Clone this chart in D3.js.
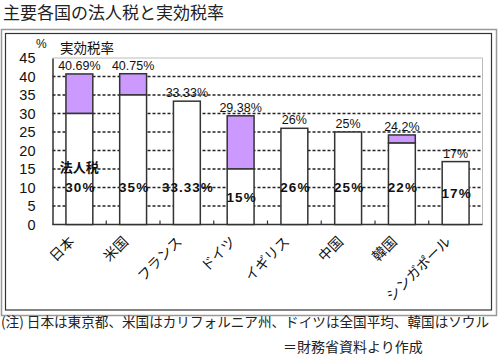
<!DOCTYPE html>
<html><head><meta charset="utf-8">
<script src="https://cdn.jsdelivr.net/npm/d3@7"></script>
<style>
body{margin:0;background:#fff;}
text{font-family:"Liberation Sans","Noto Sans CJK JP",sans-serif;}
.jp{font-family:"Noto Sans CJK JP","Liberation Sans",sans-serif;}
</style></head><body>
<svg id="c" width="500" height="364"></svg>
<script>
const countries = ["日本","米国","フランス","ドイツ","イギリス","中国","韓国","シンガポール"];
const corporateTax = [30, 35, 33.33, 15, 26, 25, 22, 17];
const effectiveTax = [40.69, 40.75, 33.33, 29.38, 26, 25, 24.2, 17];
const effectiveLabels = ["40.69%","40.75%","33.33%","29.38%","26%","25%","24.2%","17%"];
const corporateLabels = ["30%","35%","33.33%","15%","26%","25%","22%","17%"];
const yTicks = [0,5,10,15,20,25,30,35,40,45];

const svg = d3.select("#c");

// title
svg.append("text").attr("class","jp").attr("x",3).attr("y",19)
  .attr("font-size",17).attr("fill","#222").text("主要各国の法人税と実効税率");

// frames
svg.append("rect").attr("x",1.5).attr("y",29.5).attr("width",495).attr("height",286)
  .attr("fill","none").attr("stroke","#999").attr("stroke-width",1.5);
svg.append("rect").attr("x",5.5).attr("y",33.5).attr("width",486).attr("height",276.5)
  .attr("fill","none").attr("stroke","#333").attr("stroke-width",1.2);

const x0 = 52.5, x1 = 482.5, yTop = 58, yBot = 224.5;
const x = d3.scaleBand().domain(countries).range([x0, x1]).paddingInner(0.5).paddingOuter(0.25);
const y = d3.scaleLinear().domain([0,45]).range([yBot, yTop]);

// plot border (light)
svg.append("path").attr("d",`M${x0},${yTop}H${x1}V${yBot}`).attr("fill","none")
  .attr("stroke","#bbb").attr("stroke-width",1);

// grid
svg.append("g").selectAll("line").data(yTicks.filter(d=>d>0&&d<45)).join("line")
  .attr("x1",x0).attr("x2",x1).attr("y1",d=>y(d)).attr("y2",d=>y(d))
  .attr("stroke","#222").attr("stroke-width",1.3).attr("stroke-dasharray","3,2");

// y axis
const yAxis = svg.append("g").attr("transform",`translate(${x0},0)`)
  .call(d3.axisLeft(y).tickValues(yTicks).tickSize(0).tickPadding(17));
yAxis.select(".domain").attr("stroke","#333").attr("stroke-width",1.5);
yAxis.selectAll("text").attr("font-size",14.5).attr("fill","#111")
  .attr("font-family","Liberation Sans, sans-serif");

// x axis baseline + ticks at band boundaries
const step = x.step();
svg.append("line").attr("x1",x0).attr("x2",x1).attr("y1",yBot).attr("y2",yBot)
  .attr("stroke","#333").attr("stroke-width",1.5);
const bounds = d3.range(1, countries.length).map(i => x0 + i*step);
svg.append("g").selectAll("line").data(bounds).join("line")
  .attr("x1",d=>d).attr("x2",d=>d).attr("y1",yBot).attr("y2",yBot-4)
  .attr("stroke","#333").attr("stroke-width",1.2);

// bars
const bw = x.bandwidth();
const g = svg.append("g");
countries.forEach((c,i)=>{
  const bx = x(c);
  if (effectiveTax[i] > corporateTax[i]) {
    g.append("rect").attr("x",bx).attr("y",y(effectiveTax[i]))
      .attr("width",bw).attr("height",y(corporateTax[i])-y(effectiveTax[i]))
      .attr("fill","#cc99ff").attr("stroke","#333").attr("stroke-width",1.5);
  }
  g.append("rect").attr("x",bx).attr("y",y(corporateTax[i]))
    .attr("width",bw).attr("height",yBot-y(corporateTax[i]))
    .attr("fill","#fff").attr("stroke","#333").attr("stroke-width",1.5);
});

// top labels
svg.append("g").selectAll("text").data(countries).join("text")
  .attr("x",d=>x(d)+bw/2).attr("y",(d,i)=>y(effectiveTax[i])-4)
  .attr("text-anchor","middle").attr("font-size",12.5).attr("fill","#111")
  .text((d,i)=>effectiveLabels[i]);

// inner bold labels
svg.append("g").selectAll("text").data(countries).join("text")
  .attr("x",d=>x(d)+bw/2+1).attr("y",(d,i)=>y(Math.min(corporateTax[i]/2,10.2))+5)
  .attr("text-anchor","middle").attr("font-size",13.5).attr("font-weight","bold")
  .attr("letter-spacing","1").attr("fill","#111")
  .text((d,i)=>corporateLabels[i]);

svg.append("text").attr("class","jp").attr("x",x(countries[0])+bw/2).attr("y",y(14.3))
  .attr("text-anchor","middle").attr("font-size",13).attr("font-weight","bold")
  .attr("fill","#111").text("法人税");

// axis titles
svg.append("text").attr("x",36).attr("y",48).attr("font-size",12).attr("fill","#111").text("%");
svg.append("text").attr("class","jp").attr("x",60).attr("y",53).attr("font-size",13.5)
  .attr("fill","#111").text("実効税率");

// x labels
svg.append("g").selectAll("text").data(countries).join("text")
  .attr("class","jp")
  .attr("transform",d=>`translate(${x(d)+bw/2-4},${yBot+18}) rotate(-45)`)
  .attr("text-anchor","end").attr("font-size",14).attr("fill","#111")
  .text(d=>d);

// notes
svg.append("text").attr("class","jp").attr("x",1).attr("y",327).attr("font-size",13.6)
  .attr("fill","#222")
  .text("(注) 日本は東京都、米国はカリフォルニア州、ドイツは全国平均、韓国はソウル");
svg.append("text").attr("class","jp").attr("x",283).attr("y",352).attr("font-size",14)
  .attr("fill","#222").text("＝財務省資料より作成");
</script></body></html>
